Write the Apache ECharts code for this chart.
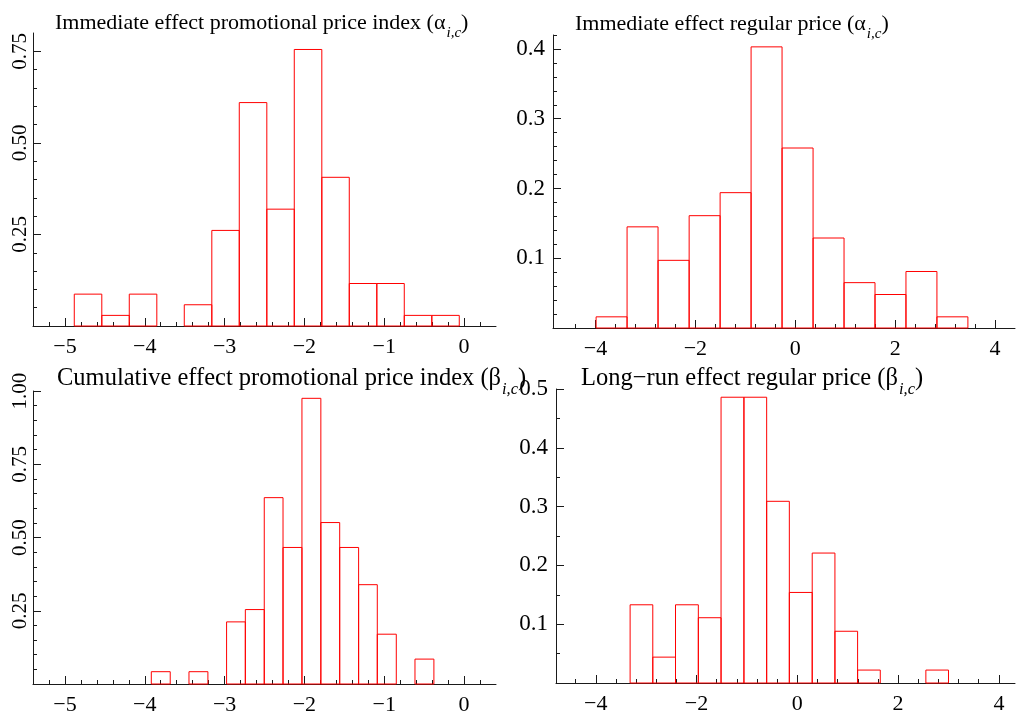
<!DOCTYPE html>
<html><head><meta charset="utf-8">
<script src="https://cdn.jsdelivr.net/npm/echarts@6/dist/echarts.min.js"></script>
<style>html,body{margin:0;padding:0;background:#fff}#c{width:1016px;height:716px}</style>
</head><body><div id="c"></div>
<script>
// ---- data (density histograms) ----
const p1Edges = [-4.883, -4.538, -4.194, -3.849, -3.505, -3.160, -2.816, -2.471, -2.127, -1.782, -1.438, -1.093, -0.749, -0.404, -0.060];
const p1Density = [0.087, 0.029, 0.087, 0, 0.058, 0.261, 0.610, 0.319, 0.755, 0.406, 0.116, 0.116, 0.029, 0.029];

const p2Edges = [-3.987, -3.367, -2.747, -2.124, -1.504, -0.884, -0.264, 0.357, 0.977, 1.597, 2.217, 2.837, 3.457];
const p2Density = [0.016, 0.145, 0.097, 0.161, 0.194, 0.403, 0.258, 0.129, 0.065, 0.048, 0.081, 0.016];

const p3Edges = [-3.918, -3.681, -3.446, -3.209, -2.975, -2.740, -2.503, -2.268, -2.031, -1.794, -1.558, -1.321, -1.087, -0.849, -0.615, -0.378];
const p3Density = [0.042, 0, 0.042, 0, 0.212, 0.254, 0.636, 0.466, 0.975, 0.551, 0.466, 0.339, 0.170, 0, 0.085];

const p4Edges = [-3.319, -2.869, -2.418, -1.965, -1.514, -1.060, -0.609, -0.159, 0.295, 0.746, 1.196, 1.646, 2.100, 2.551, 3.000];
const p4Density = [0.133, 0.044, 0.133, 0.111, 0.486, 0.486, 0.309, 0.154, 0.221, 0.088, 0.022, 0, 0, 0.022];

// ---- tick labels ----
const xTicksPromo = [-5, -4, -3, -2, -1, 0];
const xTicksRegular = [-4, -2, 0, 2, 4];
const yTicksP1 = [0.25, 0.5, 0.75];
const yTicksP2 = [0.1, 0.2, 0.3, 0.4];
const yTicksP3 = [0.25, 0.5, 0.75, 1.0];
const yTicksP4 = [0.1, 0.2, 0.3, 0.4, 0.5];

const titles = [
  ['Immediate effect promotional price index (', 'α'],
  ['Immediate effect regular price (', 'α'],
  ['Cumulative effect promotional price index (', 'β'],
  ['Long\u2212run effect regular price (', 'β']
];

// ---- helpers ----
function steps(a, b, s) { const out = []; const n = Math.round((b - a) / s); for (let i = 0; i <= n; i++) out.push(+(a + i * s).toFixed(4)); return out; }
const FONT = 'Liberation Serif';
const AX = '#1a1a1a';
const fmtX = v => (v < 0 ? '\u2212' + Math.abs(v) : String(v));

const grids = [
  { left: 33, top: 33, width: 463, height: 293 },
  { left: 553, top: 35, width: 462, height: 293 },
  { left: 33, top: 391, width: 463, height: 293 },
  { left: 556, top: 389, width: 459, height: 294 }
];
const xCfg = [
  { min: -5.4, max: 0.4, major: xTicksPromo, minor: steps(-5.2, 0.2, 0.2) },
  { min: -4.85, max: 4.4, major: xTicksRegular, minor: steps(-4.4, 4.0, 0.4) },
  { min: -5.4, max: 0.4, major: xTicksPromo, minor: steps(-5.2, 0.2, 0.2) },
  { min: -4.79, max: 4.32, major: xTicksRegular, minor: steps(-4.4, 4.0, 0.4) }
];
const yCfg = [
  { max: 0.8, major: yTicksP1, minor: steps(0.05, 0.75, 0.05), rot: true, fmt: v => v.toFixed(2) },
  { max: 0.42, major: yTicksP2, minor: steps(0.02, 0.42, 0.02), rot: false, fmt: v => v.toFixed(1) },
  { max: 1.0, major: yTicksP3, minor: steps(0.05, 1.0, 0.05), rot: true, fmt: v => v.toFixed(2) },
  { max: 0.5, major: yTicksP4, minor: steps(0.05, 0.5, 0.05), rot: false, fmt: v => v.toFixed(1) }
];
const data = [[p1Edges, p1Density], [p2Edges, p2Density], [p3Edges, p3Density], [p4Edges, p4Density]];

const xAxis = [], yAxis = [], series = [];
grids.forEach((g, i) => {
  const xc = xCfg[i], yc = yCfg[i];
  xAxis.push({
    type: 'value', gridIndex: i, min: xc.min, max: xc.max, position: 'bottom',
    axisLine: { show: true, onZero: false, lineStyle: { color: AX, width: 1 } },
    axisTick: { show: true, inside: true, length: 8, customValues: xc.major, lineStyle: { color: AX, width: 1 } },
    axisLabel: { show: true, customValues: xc.major, formatter: fmtX, fontFamily: FONT, fontSize: 22, color: '#000', margin: 10 },
    splitLine: { show: false }
  });
  xAxis.push({
    type: 'value', gridIndex: i, min: xc.min, max: xc.max, position: 'bottom',
    axisLine: { show: false, onZero: false },
    axisTick: { show: true, inside: true, length: 4, customValues: xc.minor, lineStyle: { color: AX, width: 1 } },
    axisLabel: { show: false }, splitLine: { show: false }
  });
  yAxis.push({
    type: 'value', gridIndex: i, min: 0, max: yc.max, position: 'left',
    axisLine: { show: true, onZero: false, lineStyle: { color: AX, width: 1 } },
    axisTick: { show: true, inside: true, length: 8, customValues: yc.major, lineStyle: { color: AX, width: 1 } },
    axisLabel: { show: true, customValues: yc.major, formatter: yc.fmt, rotate: yc.rot ? 90 : 0, fontFamily: FONT, fontSize: yc.rot ? 21 : 23, color: '#000', margin: yc.rot ? 2 : 8 },
    splitLine: { show: false }
  });
  yAxis.push({
    type: 'value', gridIndex: i, min: 0, max: yc.max, position: 'left',
    axisLine: { show: false, onZero: false },
    axisTick: { show: true, inside: true, length: 4, customValues: yc.minor, lineStyle: { color: AX, width: 1 } },
    axisLabel: { show: false }, splitLine: { show: false }
  });
  const [edges, dens] = data[i];
  const items = [];
  dens.forEach((h, k) => { if (h > 0) items.push([edges[k], edges[k + 1], h]); });
  series.push({
    type: 'custom', xAxisIndex: 2 * i, yAxisIndex: 2 * i, data: items,
    encode: { x: [0, 1], y: 2 }, clip: false, silent: true,
    renderItem: function (params, api) {
      const a = api.coord([api.value(0), api.value(2)]);
      const b = api.coord([api.value(1), 0]);
      return { type: 'rect', shape: { x: a[0], y: a[1], width: b[0] - a[0], height: b[1] - a[1] },
        style: { fill: 'rgba(255,255,255,0)', stroke: '#ff0000', lineWidth: 1 } };
    }
  });
});

// title layout: [left, top, main font size, subscript font size, subscript drop]
const titleLayout = [[55, 12, 22, 15, 14], [575, 13, 22, 15, 14], [57, 366, 24.5, 16.5, 15], [581, 366, 24.5, 16.5, 15]];
const title = titles.map((t, i) => {
  const [l, tp, fm, fs, drop] = titleLayout[i];
  return {
    left: l, top: tp, padding: 0,
    text: '{m|' + t[0] + t[1] + '}{s|i,c}{m|)}',
    textStyle: {
      fontWeight: 'normal',
      rich: {
        m: { fontFamily: FONT, fontSize: fm, fontWeight: 'normal', color: '#000', lineHeight: fm, verticalAlign: 'top' },
        s: { fontFamily: FONT, fontSize: fs, fontWeight: 'normal', fontStyle: 'italic', color: '#000', lineHeight: fs + 1, padding: [drop, 0, 0, 1], verticalAlign: 'top' }
      }
    }
  };
});

const chart = echarts.init(document.getElementById('c'), null, { renderer: 'canvas' });
chart.setOption({ animation: false, backgroundColor: '#fff', title, grid: grids, xAxis, yAxis, series });
</script></body></html>
